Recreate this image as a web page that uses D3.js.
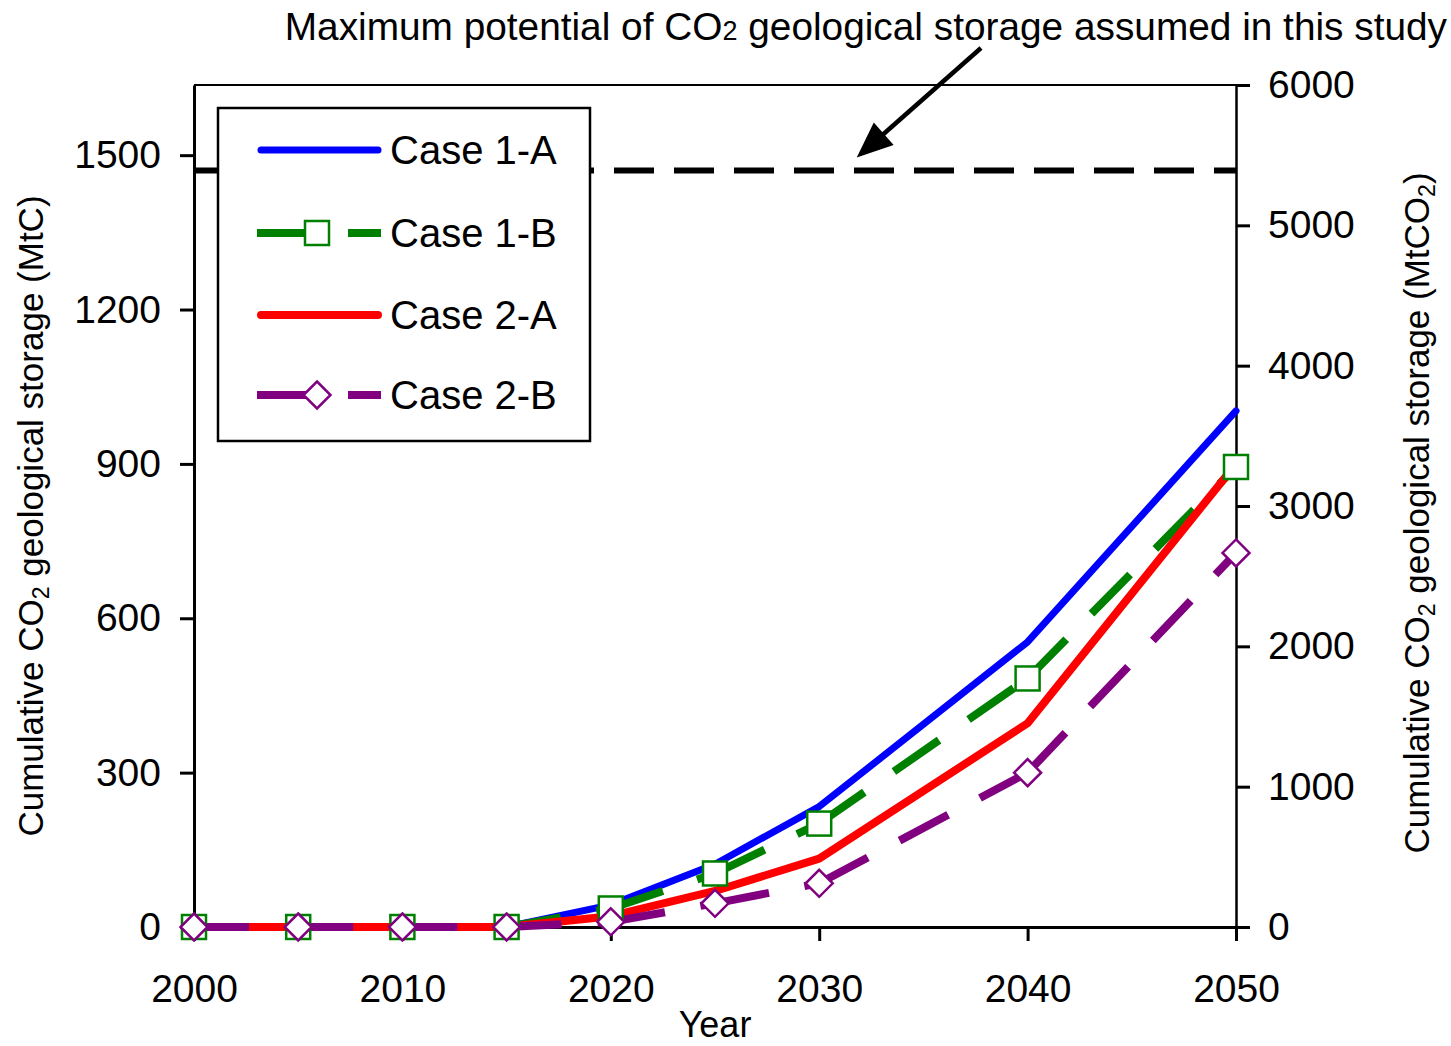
<!DOCTYPE html>
<html>
<head>
<meta charset="utf-8">
<script src="https://cdn.jsdelivr.net/npm/d3@7"></script>
<style>
  body { margin: 0; background: #fff; }
  svg { display: block; }
  text { font-family: "Liberation Sans", Arial, Helvetica, sans-serif; fill: #000; }
</style>
</head>
<body>
<svg id="chart" width="1451" height="1046"></svg>
<script>
// Cumulative CO2 geological storage by scenario (MtC)
const years   = [2000, 2005, 2010, 2015, 2020, 2025, 2030, 2040, 2050];
const case1A  = [0, 0, 0, 0, 43, 122, 234, 554, 1003];
const case1B  = [0, 0, 0, 0, 36, 104, 201, 483, 894];
const case2A  = [0, 0, 0, 0, 21, 70, 133, 396, 900];
const case2B  = [0, 0, 0, 0, 10, 46, 85, 300, 727];
const seriesNames  = ["Case 1-A", "Case 1-B", "Case 2-A", "Case 2-B"];
const xTickValues  = [2000, 2010, 2020, 2030, 2040, 2050];
const leftTicks    = [0, 300, 600, 900, 1200, 1500];
const rightTicks   = [0, 1000, 2000, 3000, 4000, 5000, 6000];
const storageLimit = 1470;          // maximum geological storage potential, MtC
const carbonPerCO2 = 12 / 44;       // MtC per MtCO2

const svg = d3.select("#chart");
const m = { left: 194, right: 1236, top: 85, bottom: 927 };

const x  = d3.scaleLinear().domain([2000, 2050]).range([m.left, m.right]);
const yR = d3.scaleLinear().domain([0, 6000]).range([m.bottom, m.top]);
const yL = d3.scaleLinear().domain([0, 6000 * carbonPerCO2]).range([m.bottom, m.top]);

const styles = [
  { color: "#0000ff", width: 7, dashed: false, marker: null },
  { color: "#008000", width: 8, dashed: true,  marker: "square" },
  { color: "#ff0000", width: 8, dashed: false, marker: null },
  { color: "#800080", width: 8, dashed: true,  marker: "diamond" }
];
const values = [case1A, case1B, case2A, case2B];
const series = seriesNames.map((name, i) => ({
  name, style: styles[i],
  points: years.map((yr, j) => ({ year: yr, v: values[i][j] }))
}));

const tickFont = 39;
const plain = d3.format("d");

// ---- axes ----
const gLeft = svg.append("g").attr("transform", `translate(${m.left},0)`)
  .call(d3.axisLeft(yL).tickValues(leftTicks).tickFormat(plain)
    .tickSize(14).tickSizeOuter(0).tickPadding(19));
const gRight = svg.append("g").attr("transform", `translate(${m.right},0)`)
  .call(d3.axisRight(yR).tickValues(rightTicks).tickFormat(plain)
    .tickSize(14).tickSizeOuter(0).tickPadding(18));
const gBottom = svg.append("g").attr("transform", `translate(0,${m.bottom})`)
  .call(d3.axisBottom(x).tickValues(xTickValues).tickFormat(plain)
    .tickSize(14).tickSizeOuter(0).tickPadding(33));

[gLeft, gRight, gBottom].forEach(g => {
  g.selectAll("path.domain").attr("stroke", "#000").attr("stroke-width", 3);
  g.selectAll(".tick line").attr("stroke", "#000").attr("stroke-width", 3);
  g.selectAll(".tick text").style("font-size", tickFont + "px")
    .style("font-family", '"Liberation Sans", Arial, sans-serif').attr("fill", "#000");
});
gRight.selectAll("path.domain").attr("stroke-width", 2.5);

// top frame line
svg.append("line")
  .attr("x1", m.left).attr("x2", m.right)
  .attr("y1", m.top).attr("y2", m.top)
  .attr("stroke", "#000").attr("stroke-width", 2);

// ---- storage limit line ----
svg.append("line")
  .attr("x1", x(2000)).attr("x2", x(2050))
  .attr("y1", yL(storageLimit)).attr("y2", yL(storageLimit))
  .attr("stroke", "#000").attr("stroke-width", 6)
  .attr("stroke-dasharray", "40,20");

// ---- series lines ----
const line = d3.line().x(d => x(d.year)).y(d => yL(d.v));
const gLines = svg.append("g");
series.forEach(s => {
  if (s.style.dashed) {
    // dash pattern restarts at each data point
    d3.pairs(s.points).forEach(pair => {
      gLines.append("path")
        .attr("d", line(pair))
        .attr("fill", "none")
        .attr("stroke", s.style.color)
        .attr("stroke-width", s.style.width)
        .attr("stroke-dasharray", "55,36")
        .attr("stroke-linecap", "butt");
    });
  } else {
    gLines.append("path")
      .attr("d", line(s.points))
      .attr("fill", "none")
      .attr("stroke", s.style.color)
      .attr("stroke-width", s.style.width)
      .attr("stroke-linejoin", "round")
      .attr("stroke-linecap", "round");
  }
});

// ---- markers ----
function drawMarker(g, type, cx, cy, color) {
  if (type === "square") {
    g.append("rect")
      .attr("x", cx - 12).attr("y", cy - 12)
      .attr("width", 24).attr("height", 24)
      .attr("fill", "#fff").attr("stroke", color).attr("stroke-width", 2.5);
  } else if (type === "diamond") {
    const r = 13.5;
    g.append("path")
      .attr("d", `M${cx},${cy - r}L${cx + r},${cy}L${cx},${cy + r}L${cx - r},${cy}Z`)
      .attr("fill", "#fff").attr("stroke", color).attr("stroke-width", 2.5);
  }
}
const gMarkers = svg.append("g");
series.forEach(s => {
  if (!s.style.marker) return;
  s.points.forEach(p => drawMarker(gMarkers, s.style.marker, x(p.year), yL(p.v), s.style.color));
});

// ---- legend ----
const lg = svg.append("g");
lg.append("rect")
  .attr("x", 218).attr("y", 108).attr("width", 372).attr("height", 333)
  .attr("fill", "#fff").attr("stroke", "#000").attr("stroke-width", 2.5);
const rowY = [150, 233, 315, 395];
series.forEach((s, i) => {
  const yy = rowY[i];
  if (s.style.dashed) {
    lg.append("line")
      .attr("x1", 257).attr("x2", 381).attr("y1", yy).attr("y2", yy)
      .attr("stroke", s.style.color).attr("stroke-width", s.style.width)
      .attr("stroke-dasharray", "55,36");
    drawMarker(lg, s.style.marker, 317, yy, s.style.color);
  } else {
    lg.append("line")
      .attr("x1", 261).attr("x2", 378).attr("y1", yy).attr("y2", yy)
      .attr("stroke", s.style.color).attr("stroke-width", s.style.width)
      .attr("stroke-linecap", "round");
  }
  lg.append("text")
    .attr("x", 390).attr("y", yy + 14)
    .style("font-size", "40px")
    .text(s.name);
});

// ---- axis titles ----
svg.append("text")
  .attr("x", x(2025)).attr("y", 1037)
  .attr("text-anchor", "middle")
  .style("font-size", "36px")
  .text("Year");

const leftTitle = svg.append("text")
  .attr("transform", "translate(43,516) rotate(-90)")
  .attr("text-anchor", "middle")
  .style("font-size", "35px");
leftTitle.append("tspan").text("Cumulative CO");
leftTitle.append("tspan").style("font-size", "23px").attr("dy", 6).text("2");
leftTitle.append("tspan").attr("dy", -6).text(" geological storage (MtC)");

const rightTitle = svg.append("text")
  .attr("transform", "translate(1429,513) rotate(-90)")
  .attr("text-anchor", "middle")
  .style("font-size", "35px");
rightTitle.append("tspan").text("Cumulative CO");
rightTitle.append("tspan").style("font-size", "23px").attr("dy", 6).text("2");
rightTitle.append("tspan").attr("dy", -6).text(" geological storage (MtCO");
rightTitle.append("tspan").style("font-size", "23px").attr("dy", 6).text("2");
rightTitle.append("tspan").attr("dy", -6).text(")");

// ---- annotation ----
const note = svg.append("text")
  .attr("x", 1447).attr("y", 40)
  .attr("text-anchor", "end")
  .style("font-size", "38.8px");
note.append("tspan").text("Maximum potential of CO");
note.append("tspan").style("font-size", "27px").text("2");
note.append("tspan").text(" geological storage assumed in this study");

// arrow pointing at the storage limit line
const tip = [x(2031.8), yL(storageLimit) - 13];
const start = [981, 48];
const dx = tip[0] - start[0], dy = tip[1] - start[1];
const len = Math.hypot(dx, dy), ux = dx / len, uy = dy / len;
const headLen = 36, headHalf = 15;
const base = [tip[0] - ux * headLen, tip[1] - uy * headLen];
svg.append("line")
  .attr("x1", start[0]).attr("y1", start[1])
  .attr("x2", base[0] + ux * 4).attr("y2", base[1] + uy * 4)
  .attr("stroke", "#000").attr("stroke-width", 4.5);
svg.append("path")
  .attr("d", `M${tip[0]},${tip[1]}L${base[0] - uy * headHalf},${base[1] + ux * headHalf}L${base[0] + uy * headHalf},${base[1] - ux * headHalf}Z`)
  .attr("fill", "#000");
</script>
</body>
</html>
